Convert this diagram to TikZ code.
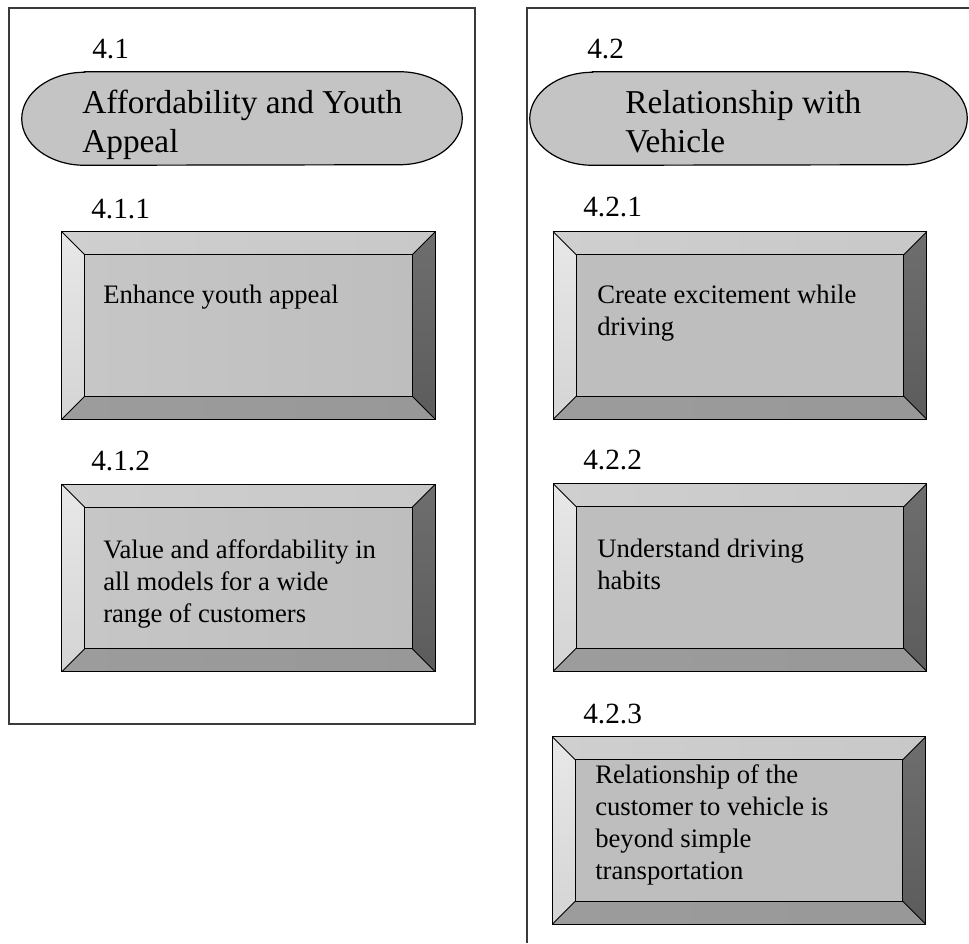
\documentclass[tikz,border=0pt]{standalone}
\usepackage{fontspec}
\setmainfont{Liberation Serif}
\usetikzlibrary{calc}

\definecolor{frameline}{HTML}{3A3A3A}
\definecolor{faceA}{HTML}{C6C6C6}
\definecolor{faceB}{HTML}{DEDEDE}
\definecolor{faceC}{HTML}{BEBEBE}
\definecolor{topL}{HTML}{CFCFCF}
\definecolor{topM}{HTML}{E2E2E2}
\definecolor{topR}{HTML}{C8C8C8}
\definecolor{leftT}{HTML}{E8E8E8}
\definecolor{leftB}{HTML}{D4D4D4}
\definecolor{rightT}{HTML}{6E6E6E}
\definecolor{rightB}{HTML}{5C5C5C}
\definecolor{botL}{HTML}{9C9C9C}
\definecolor{botM}{HTML}{B4B4B4}
\definecolor{botR}{HTML}{989898}
\definecolor{pillA}{HTML}{C4C4C4}
\definecolor{pillB}{HTML}{E4E4E4}

\tikzset{
  panel/.style={draw=frameline, line width=0.9pt},
  numlabel/.style={anchor=base west, inner sep=0pt, font=\fontsize{22}{26}\selectfont},
  % multi-line texts are placed by the baseline of their last line
  titletext/.style={anchor=base west, inner sep=0pt, align=left,
    font=\fontsize{25}{29.25}\selectfont},
  bodytext/.style={anchor=base west, inner sep=0pt, align=left,
    font=\fontsize{20}{24}\selectfont},
  boxframe/.style={inner sep=0pt, minimum width=279.75pt, minimum height=140.25pt},
  pillframe/.style={inner sep=0pt, minimum height=69.75pt},
  edge/.style={draw=black, line width=0.9pt},
  thinedge/.style={draw=black, line width=0.6pt},
}

% bevelled button drawn around a named frame node
\newcommand\drawbevel[4]{% #1 node, #2 #3 #4 inner-face colours
  \path (#1.north west) coordinate (#1-o1) (#1.north east) coordinate (#1-o2)
        (#1.south east) coordinate (#1-o3) (#1.south west) coordinate (#1-o4);
  \path ([shift={(17.25pt,-17.25pt)}]#1.north west) coordinate (#1-i1)
        ([shift={(-17.25pt,-17.25pt)}]#1.north east) coordinate (#1-i2)
        ([shift={(-17.25pt,17.25pt)}]#1.south east) coordinate (#1-i3)
        ([shift={(17.25pt,17.25pt)}]#1.south west) coordinate (#1-i4);
  \shade[left color=topL, middle color=topM, right color=topR]
    (#1-o1) -- (#1-o2) -- (#1-i2) -- (#1-i1) -- cycle;
  \shade[top color=leftT, bottom color=leftB]
    (#1-o1) -- (#1-i1) -- (#1-i4) -- (#1-o4) -- cycle;
  \shade[top color=rightT, bottom color=rightB]
    (#1-o2) -- (#1-o3) -- (#1-i3) -- (#1-i2) -- cycle;
  \shade[left color=botL, middle color=botM, right color=botR]
    (#1-o4) -- (#1-i4) -- (#1-i3) -- (#1-o3) -- cycle;
  \shade[left color=#2, middle color=#3, right color=#4]
    (#1-i1) rectangle (#1-i3);
  \draw[thinedge] (#1-o1) -- (#1-i1) (#1-o2) -- (#1-i2)
                  (#1-o3) -- (#1-i3) (#1-o4) -- (#1-i4);
  \draw[edge] (#1-i1) rectangle (#1-i3);
  \draw[edge] (#1-o1) rectangle (#1-o3);
}

% pill shape with elliptical ends around a named frame node
\newcommand\drawpill[1]{%
  \shade[left color=pillA, middle color=pillB, right color=pillA, draw=black, line width=0.9pt]
    ([xshift=47pt]#1.north west) -- ([xshift=-47pt]#1.north east)
    arc[start angle=90, end angle=-90, x radius=47pt, y radius=34.875pt]
    -- ([xshift=47pt]#1.south west)
    arc[start angle=270, end angle=90, x radius=47pt, y radius=34.875pt]
    -- cycle;
}

\begin{document}
\begin{tikzpicture}[x=0.75pt, y=-0.75pt]
  \useasboundingbox (0,0) rectangle (969,943);
  \fill[white] (0,0) rectangle (969,943);

  % the two panels
  \coordinate (lp1) at (9,8);
  \coordinate (lp2) at (475,724);
  \draw[panel] (lp1) rectangle (lp2);
  \coordinate (rp1) at (527,943);
  \coordinate (rp2) at (527,8);
  \coordinate (rp3) at (969,8);
  \draw[panel] (rp1) -- (rp2) -- (rp3);

  % ---------- left panel ----------
  \node[numlabel] (n41) at (92,58) {4.1};
  \node[pillframe, minimum width=330pt] (p41) at (242,118.5) {};
  \drawpill{p41}
  \node[titletext] (t41) at (82,152) {Affordability and Youth\\Appeal};

  \node[numlabel] (n411) at (91,218) {4.1.1};
  \node[boxframe] (b411) at (248.5,325.5) {};
  \drawbevel{b411}{faceA}{faceB}{faceC}
  \node[bodytext] (t411) at (103,303) {Enhance youth appeal};

  \node[numlabel] (n412) at (91,470) {4.1.2};
  \node[boxframe] (b412) at (248.5,578) {};
  \drawbevel{b412}{faceA}{faceB}{faceC}
  \node[bodytext] (t412) at (103,622)
    {Value and affordability in\\all models for a wide\\range of customers};

  % ---------- right panel ----------
  \node[numlabel] (n42) at (587,58) {4.2};
  \node[pillframe, minimum width=327.75pt] (p42) at (748.5,118.5) {};
  \drawpill{p42}
  \node[titletext] (t42) at (625,152) {Relationship with\\Vehicle};

  \node[numlabel] (n421) at (583,216) {4.2.1};
  \node[boxframe] (b421) at (740,325.5) {};
  \drawbevel{b421}{faceC}{faceA}{faceC}
  \node[bodytext] (t421) at (597,335) {Create excitement while\\driving};

  \node[numlabel] (n422) at (583,469) {4.2.2};
  \node[boxframe] (b422) at (740,577.5) {};
  \drawbevel{b422}{faceC}{faceA}{faceC}
  \node[bodytext] (t422) at (597,589) {Understand driving\\habits};

  \node[numlabel] (n423) at (583,723) {4.2.3};
  \node[boxframe] (b423) at (739,830.5) {};
  \drawbevel{b423}{faceC}{faceA}{faceC}
  \node[bodytext] (t423) at (595,879)
    {Relationship of the\\customer to vehicle is\\beyond simple\\transportation};
\end{tikzpicture}
\end{document}
